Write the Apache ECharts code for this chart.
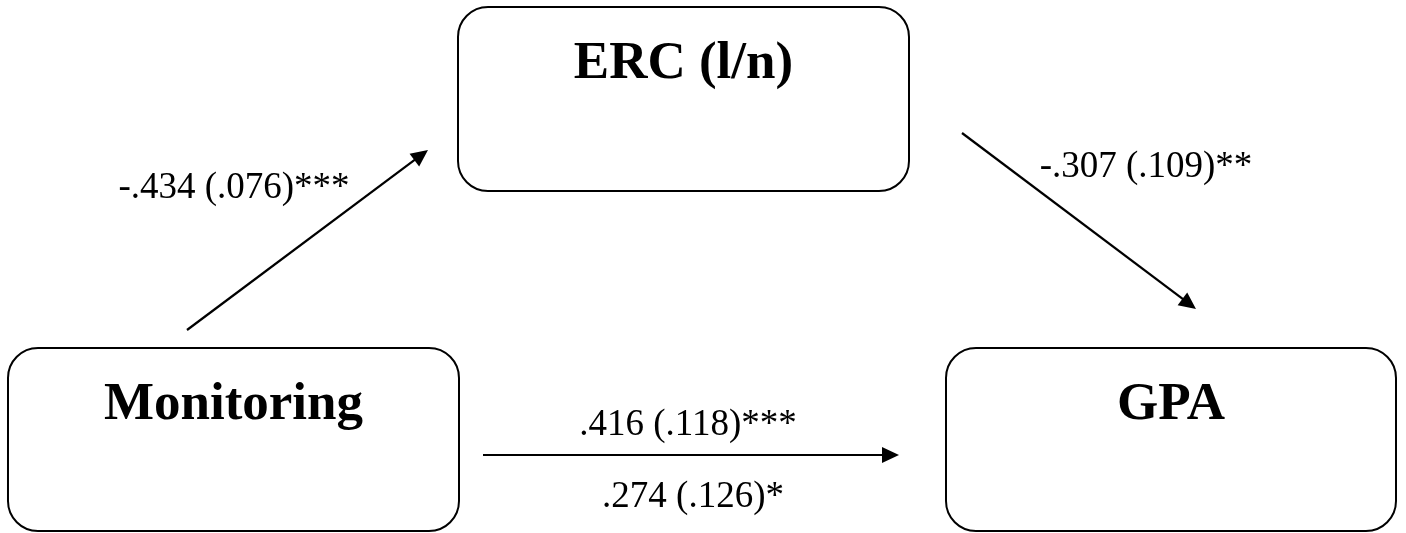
<!DOCTYPE html>
<html>
<head>
<meta charset="utf-8">
<script src="https://cdn.jsdelivr.net/npm/echarts@6/dist/echarts.min.js"></script>
<style>
  html, body { margin: 0; padding: 0; background: #fff; }
  #chart { width: 1406px; height: 533px; }
</style>
</head>
<body>
<div id="chart"></div>
<script>
// Variables of the mediation model
const nodeNames = ['Monitoring', 'ERC (l/n)', 'GPA'];

// Paths: predictor -> outcome, with coefficient (SE) and significance stars
const pathFrom = ['Monitoring', 'ERC (l/n)', 'Monitoring'];
const pathTo = ['ERC (l/n)', 'GPA', 'GPA'];
const pathLabels = ['-.434 (.076)***', '-.307 (.109)**', '.416 (.118)***'];

// Direct effect once the mediator is included
const directLabel = '.274 (.126)*';

// ---- layout (pixel space of a 1406 x 533 canvas; label points are text baselines) ----
const boxLayout = {
  'Monitoring': { x0: 8, y0: 348, x1: 459, y1: 531 },
  'ERC (l/n)': { x0: 458, y0: 7, x1: 909, y1: 191 },
  'GPA': { x0: 946, y0: 348, x1: 1396, y1: 531 }
};
const arrowLayout = [
  { from: [187, 330], to: [428, 150], label: [234, 198] },
  { from: [962, 133], to: [1196, 309], label: [1146, 177] },
  { from: [483, 455], to: [899, 455], label: [688, 435] }
];
const directLabelPos = [693, 507];

const FONT = '"Liberation Serif", "Times New Roman", serif';
const TITLE_SIZE = 53;
const LABEL_SIZE = 37;
// distance from the top of the text box to the baseline, as a share of font size
const ASCENT = 0.765;

const chart = echarts.init(document.getElementById('chart'), null, { renderer: 'canvas' });

const boxData = nodeNames.map(function (n) {
  const b = boxLayout[n];
  return [b.x0, b.y0, b.x1, b.y1, n];
});

const arrowData = pathLabels.map(function (lab, i) {
  const a = arrowLayout[i];
  return [a.from[0], a.from[1], a.to[0], a.to[1], a.label[0], a.label[1], lab, pathFrom[i] + ' → ' + pathTo[i]];
});

function textAtBaseline(x, baseline, text, size, bold) {
  return {
    type: 'text',
    style: {
      x: x,
      y: baseline - size * ASCENT,
      text: text,
      fill: '#000000',
      font: (bold ? 'bold ' : '') + size + 'px ' + FONT,
      align: 'center',
      verticalAlign: 'top'
    }
  };
}

chart.setOption({
  animation: false,
  backgroundColor: '#ffffff',
  grid: { left: 0, right: 0, top: 0, bottom: 0 },
  xAxis: { type: 'value', min: 0, max: 1406, show: false },
  yAxis: { type: 'value', min: 0, max: 533, inverse: true, show: false },
  series: [
    {
      name: 'variables',
      type: 'custom',
      coordinateSystem: 'cartesian2d',
      data: boxData,
      renderItem: function (params, api) {
        const p0 = api.coord([api.value(0), api.value(1)]);
        const p1 = api.coord([api.value(2), api.value(3)]);
        const name = boxData[params.dataIndex][4];
        return {
          type: 'group',
          children: [
            {
              type: 'rect',
              shape: { x: p0[0], y: p0[1], width: p1[0] - p0[0], height: p1[1] - p0[1], r: 30 },
              style: { fill: '#ffffff', stroke: '#000000', lineWidth: 2 }
            },
            textAtBaseline((p0[0] + p1[0]) / 2, p0[1] + 71, name, TITLE_SIZE, true)
          ]
        };
      }
    },
    {
      name: 'paths',
      type: 'custom',
      coordinateSystem: 'cartesian2d',
      data: arrowData,
      renderItem: function (params, api) {
        const s = api.coord([api.value(0), api.value(1)]);
        const e = api.coord([api.value(2), api.value(3)]);
        const lp = api.coord([api.value(4), api.value(5)]);
        const text = arrowData[params.dataIndex][6];
        const dx = e[0] - s[0], dy = e[1] - s[1];
        const len = Math.sqrt(dx * dx + dy * dy);
        const ux = dx / len, uy = dy / len;
        const headLen = 17, headHalf = 8;
        const bx = e[0] - ux * headLen, by = e[1] - uy * headLen;
        return {
          type: 'group',
          children: [
            {
              type: 'line',
              shape: { x1: s[0], y1: s[1], x2: bx + ux * 2, y2: by + uy * 2 },
              style: { stroke: '#000000', lineWidth: 2.2 }
            },
            {
              type: 'polygon',
              shape: {
                points: [
                  [e[0], e[1]],
                  [bx - uy * headHalf, by + ux * headHalf],
                  [bx + uy * headHalf, by - ux * headHalf]
                ]
              },
              style: { fill: '#000000' }
            },
            textAtBaseline(lp[0], lp[1], text, LABEL_SIZE, false)
          ]
        };
      }
    },
    {
      name: 'direct effect',
      type: 'custom',
      coordinateSystem: 'cartesian2d',
      data: [[directLabelPos[0], directLabelPos[1]]],
      renderItem: function (params, api) {
        const p = api.coord([api.value(0), api.value(1)]);
        return textAtBaseline(p[0], p[1], directLabel, LABEL_SIZE, false);
      }
    }
  ]
});
</script>
</body>
</html>
